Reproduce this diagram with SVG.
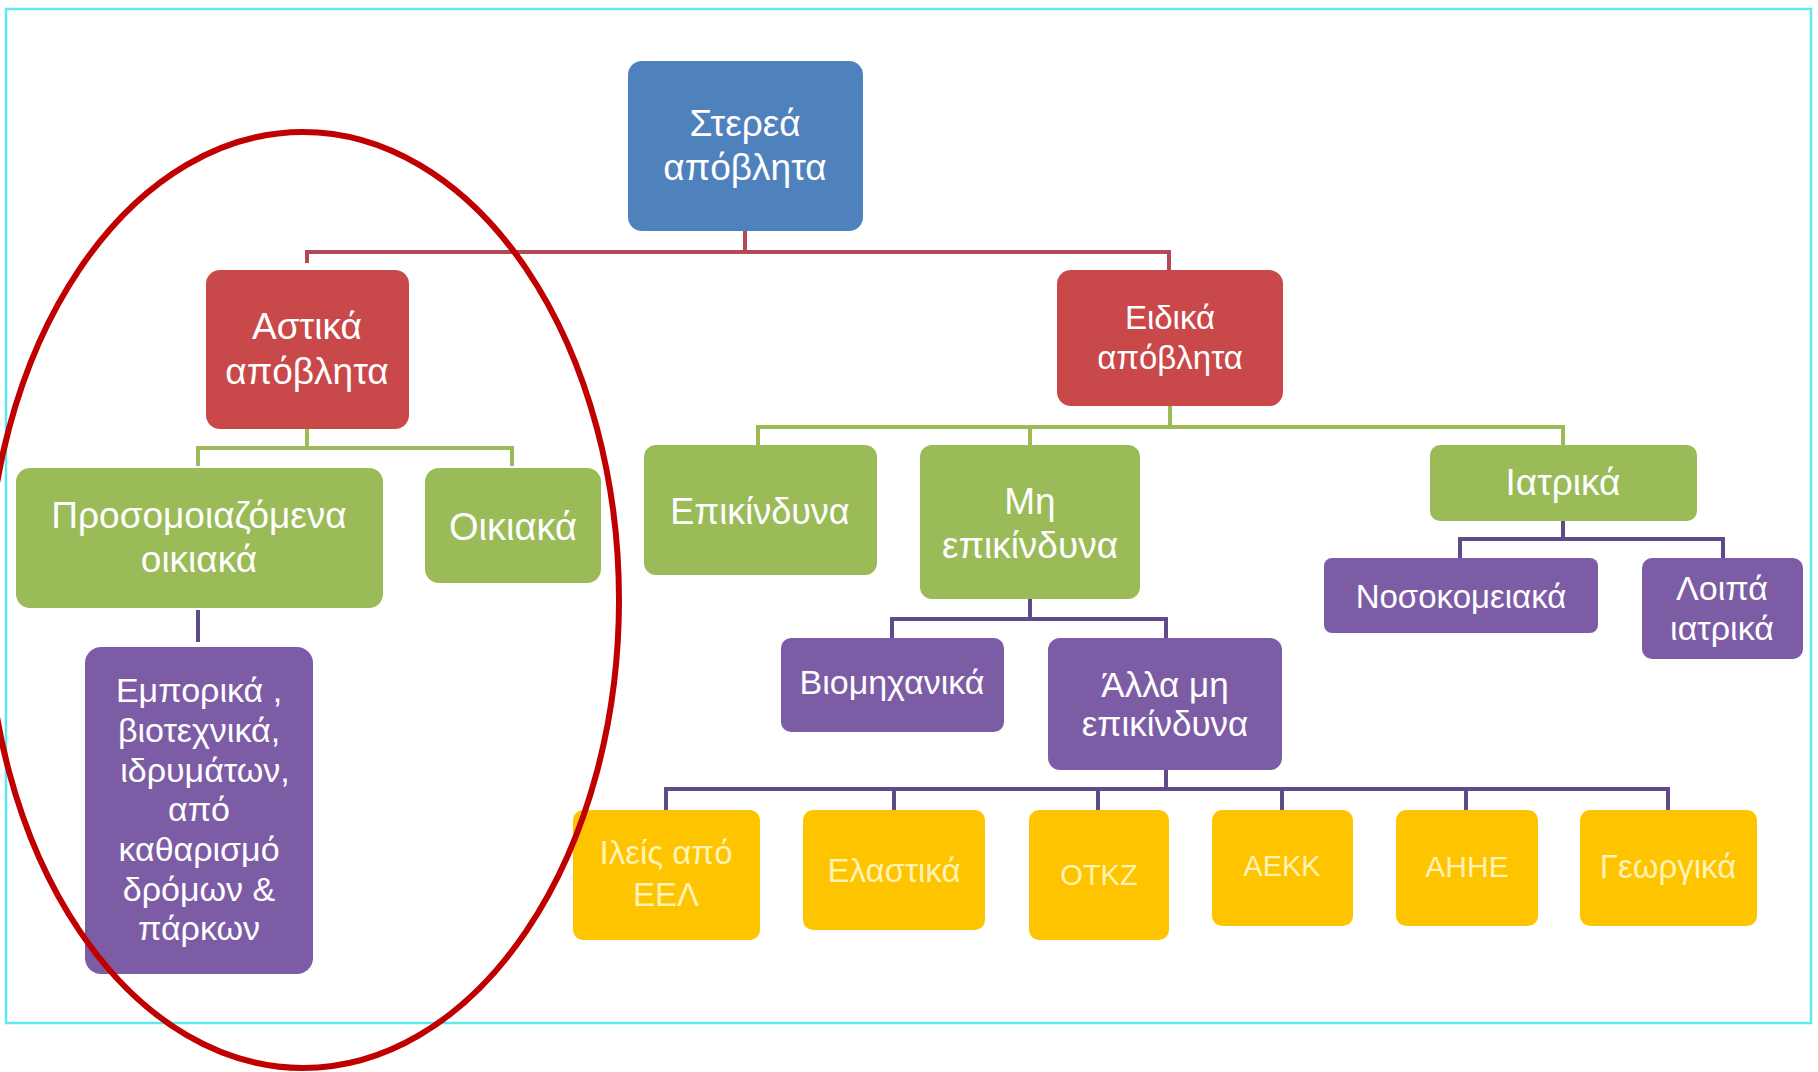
<svg xmlns="http://www.w3.org/2000/svg" width="1818" height="1072" viewBox="0 0 1818 1072">
<style>
.t{font-family:"Liberation Sans","DejaVu Sans",sans-serif;font-size:34px;fill:#ffffff;text-anchor:middle;dominant-baseline:central}
.ty{fill:#fff3b5}
.blue{fill:#4f81bd}
.red{fill:#c9484a}
.green{fill:#9bbb59}
.purple{fill:#7d5ca6}
.yellow{fill:#ffc400}
.cr{fill:none;stroke:#b04a55;stroke-width:4}
.cg{fill:none;stroke:#9bbb59;stroke-width:4}
.cp{fill:none;stroke:#5f4b8b;stroke-width:4}
</style>
<rect x="0" y="0" width="1818" height="1072" fill="#ffffff"/>
<rect x="6" y="9" width="1805" height="1014" fill="none" stroke="#5ee8f0" stroke-width="2.5"/>
<g id="connectors">
<path class="cr" d="M745,231 V252 M307,263 V252 H1169 V270"/>
<path class="cg" d="M307,429 V448 M198,466 V448 H512 V466"/>
<path class="cp" d="M198,610 V642"/>
<path class="cg" d="M1170,406 V427 M758,445 V427 H1563 V445 M1030,427 V445"/>
<path class="cp" d="M1563,521 V539 M1460,558 V539 H1723 V558"/>
<path class="cp" d="M1030,599 V619 M892,638 V619 H1166 V638"/>
<path class="cp" d="M1166,770 V789 M666,810 V789 H1668 V810 M894,789 V810 M1098,789 V810 M1282,789 V810 M1466,789 V810"/>
</g>
<g id="n-root"><rect class="blue" x="628" y="61" width="235" height="170" rx="14"/><text class="t" style="font-size:37px" x="745" y="123">Στερεά</text><text class="t" style="font-size:37px" x="745" y="167">απόβλητα</text></g>
<g id="n-astika"><rect class="red" x="206" y="270" width="203" height="159" rx="14"/><text class="t" style="font-size:37px" x="307" y="326">Αστικά</text><text class="t" style="font-size:37px" x="307" y="371">απόβλητα</text></g>
<g id="n-eidika"><rect class="red" x="1057" y="270" width="226" height="136" rx="14"/><text class="t" style="font-size:33px" x="1170" y="317">Ειδικά</text><text class="t" style="font-size:33px" x="1170" y="357">απόβλητα</text></g>
<g id="n-prosom"><rect class="green" x="16" y="468" width="367" height="140" rx="14"/><text class="t" style="font-size:37px" x="199" y="515">Προσομοιαζόμενα</text><text class="t" style="font-size:37px" x="199" y="559">οικιακά</text></g>
<g id="n-oikiaka"><rect class="green" x="425" y="468" width="176" height="115" rx="14"/><text class="t" style="font-size:38px" x="513" y="527">Οικιακά</text></g>
<g id="n-emporika"><rect class="purple" x="85" y="647" width="228" height="327" rx="16"/>
<text class="t" x="199" y="690">Εμπορικά ,</text><text class="t" x="199" y="730">βιοτεχνικά,</text><text class="t" x="205" y="770">ιδρυμάτων,</text><text class="t" x="199" y="809">από</text><text class="t" x="199" y="849">καθαρισμό</text><text class="t" x="199" y="889">δρόμων &amp;</text><text class="t" x="199" y="928">πάρκων</text></g>
<g id="n-epikindyna"><rect class="green" x="644" y="445" width="233" height="130" rx="12"/><text class="t" style="font-size:36px" x="760" y="511">Επικίνδυνα</text></g>
<g id="n-mi"><rect class="green" x="920" y="445" width="220" height="154" rx="12"/><text class="t" style="font-size:37px" x="1030" y="501">Μη</text><text class="t" style="font-size:37px" x="1030" y="545">επικίνδυνα</text></g>
<g id="n-iatrika"><rect class="green" x="1430" y="445" width="267" height="76" rx="10"/><text class="t" style="font-size:37px" x="1563" y="482">Ιατρικά</text></g>
<g id="n-nosok"><rect class="purple" x="1324" y="558" width="274" height="75" rx="8"/><text class="t" style="font-size:33px" x="1461" y="596">Νοσοκομειακά</text></g>
<g id="n-loipa"><rect class="purple" x="1642" y="558" width="161" height="101" rx="10"/><text class="t" x="1722" y="588">Λοιπά</text><text class="t" x="1722" y="628">ιατρικά</text></g>
<g id="n-viom"><rect class="purple" x="781" y="638" width="223" height="94" rx="10"/><text class="t" x="892" y="682">Βιομηχανικά</text></g>
<g id="n-alla"><rect class="purple" x="1048" y="638" width="234" height="132" rx="12"/><text class="t" style="font-size:35px" x="1165" y="684">Άλλα μη</text><text class="t" style="font-size:35px" x="1165" y="723">επικίνδυνα</text></g>
<g id="n-ileis"><rect class="yellow" x="573" y="810" width="187" height="130" rx="10"/><text class="t ty" style="font-size:33px" x="666" y="852">Ιλείς από</text><text class="t ty" style="font-size:33px" x="666" y="894">ΕΕΛ</text></g>
<g id="n-elastika"><rect class="yellow" x="803" y="810" width="182" height="120" rx="10"/><text class="t ty" style="font-size:33px" x="894" y="870">Ελαστικά</text></g>
<g id="n-otkz"><rect class="yellow" x="1029" y="810" width="140" height="130" rx="10"/><text class="t ty" style="font-size:29px" x="1099" y="875">ΟΤΚΖ</text></g>
<g id="n-aekk"><rect class="yellow" x="1212" y="810" width="141" height="116" rx="10"/><text class="t ty" style="font-size:29px" x="1282" y="866">ΑΕΚΚ</text></g>
<g id="n-ahhe"><rect class="yellow" x="1396" y="810" width="142" height="116" rx="10"/><text class="t ty" style="font-size:30px" x="1467" y="866">ΑΗΗΕ</text></g>
<g id="n-georgika"><rect class="yellow" x="1580" y="810" width="177" height="116" rx="10"/><text class="t ty" style="font-size:33px" x="1668" y="866">Γεωργικά</text></g>
<ellipse cx="303" cy="600" rx="316" ry="468" fill="none" stroke="#c00000" stroke-width="6"/>
</svg>
